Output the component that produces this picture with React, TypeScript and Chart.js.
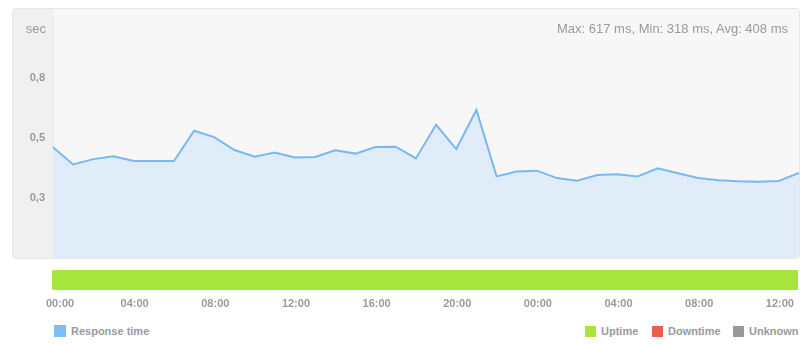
import React, { useEffect, useRef } from "react";
import { Chart, registerables } from "chart.js";

Chart.register(...registerables);

const FONT = "'Liberation Sans', Arial, Helvetica, sans-serif";

const categories = [
  "00:00", "01:00", "02:00", "03:00", "04:00", "05:00", "06:00", "07:00",
  "08:00", "09:00", "10:00", "11:00", "12:00", "13:00", "14:00", "15:00",
  "16:00", "17:00", "18:00", "19:00", "20:00", "21:00", "22:00", "23:00",
  "00:00", "01:00", "02:00", "03:00", "04:00", "05:00", "06:00", "07:00",
  "08:00", "09:00", "10:00", "11:00", "12:00", "13:00",
];

// response time in seconds
const responseTimes = [
  0.461, 0.39, 0.412, 0.424, 0.404, 0.404, 0.404, 0.53, 0.504, 0.45,
  0.422, 0.439, 0.419, 0.421, 0.449, 0.435, 0.462, 0.464, 0.415, 0.555,
  0.454, 0.617, 0.34, 0.36, 0.364, 0.333, 0.322, 0.346, 0.349, 0.34,
  0.374, 0.353, 0.333, 0.324, 0.32, 0.318, 0.321, 0.354,
];

const yTickValues = [0.25, 0.5, 0.75];
const yTickLabels = ["0,3", "0,5", "0,8"];

const xTickIndices = [0, 4, 8, 12, 16, 20, 24, 28, 32, 36];

// uptime spans (category index range)
const uptimeRanges = [[0, 37]];

const statsText = "Max: 617 ms, Min: 318 ms, Avg: 408 ms";

const LINE = "#79b8f3";
const FILL = "#e0ecf7";
const GREEN = "#a6e43e";

const gutterPlugin = {
  id: "gutter",
  beforeDraw(chart: any) {
    const { ctx, chartArea } = chart;
    ctx.save();
    ctx.fillStyle = "#f0f0f0";
    ctx.fillRect(0, 0, chartArea.left, chart.height);
    ctx.restore();
  },
};

function MainChart() {
  const ref = useRef<HTMLCanvasElement | null>(null);
  useEffect(() => {
    if (!ref.current) return;
    const chart = new Chart(ref.current, {
      type: "line",
      data: {
        labels: categories,
        datasets: [
          {
            label: "Response time",
            data: responseTimes,
            borderColor: LINE,
            backgroundColor: FILL,
            borderWidth: 2,
            fill: "origin",
            pointRadius: 0,
            tension: 0,
          },
        ],
      },
      options: {
        animation: false,
        responsive: false,
        devicePixelRatio: 1,
        layout: { padding: { top: 9, left: 0, right: 0, bottom: 0 } },
        plugins: { legend: { display: false }, tooltip: { enabled: false } },
        scales: {
          x: { display: false },
          y: {
            min: 0,
            max: 1,
            afterBuildTicks(s: any) {
              s.ticks = yTickValues.map((v) => ({ value: v }));
            },
            afterFit(s: any) {
              s.width = 40;
              s.paddingTop = 0;
              s.paddingBottom = 0;
            },
            ticks: {
              callback: (_v: any, i: number) => yTickLabels[i],
              color: "#9a9a9a",
              font: { family: FONT, size: 11, weight: "bold" },
              padding: 8,
            },
            grid: { display: false, drawTicks: false },
            border: { display: true, color: "#e3e3e3", width: 1 },
          },
        },
      } as any,
      plugins: [gutterPlugin],
    });
    return () => chart.destroy();
  }, []);
  return <canvas ref={ref} width={786} height={249} style={{ display: "block" }} />;
}

function UptimeChart() {
  const ref = useRef<HTMLCanvasElement | null>(null);
  useEffect(() => {
    if (!ref.current) return;
    const chart = new Chart(ref.current, {
      type: "bar",
      data: {
        labels: ["Uptime"],
        datasets: [
          {
            label: "Uptime",
            data: uptimeRanges as any,
            backgroundColor: GREEN,
            borderRadius: 3,
            borderSkipped: false,
            barPercentage: 1,
            categoryPercentage: 1,
          },
        ],
      },
      options: {
        animation: false,
        responsive: false,
        devicePixelRatio: 1,
        indexAxis: "y",
        layout: { padding: { top: 6, left: 52, right: 14, bottom: 4 } },
        plugins: { legend: { display: false }, tooltip: { enabled: false } },
        scales: {
          x: {
            type: "linear",
            min: 0,
            max: categories.length - 1,
            afterBuildTicks(s: any) {
              s.ticks = xTickIndices.map((v, i) => ({ value: i === 0 ? v + 0.3 : v }));
            },
            afterFit(s: any) {
              s.paddingLeft = 0;
              s.paddingRight = 0;
            },
            ticks: {
              callback: (_v: any, i: number) => categories[xTickIndices[i]],
              color: "#9a9a9a",
              font: { family: FONT, size: 11, weight: "bold" },
              padding: 7,
              labelOffset: 2,
              maxRotation: 0,
              autoSkip: false,
            },
            grid: { display: false, drawTicks: false },
            border: { display: false },
          },
          y: { display: false },
        },
      } as any,
    });
    return () => chart.destroy();
  }, []);
  return <canvas ref={ref} width={812} height={50} style={{ display: "block" }} />;
}

const textStyle: React.CSSProperties = {
  position: "absolute",
  fontFamily: FONT,
  color: "#9a9a9a",
  whiteSpace: "nowrap",
};

function LegendItem({ left, color, label, size }: { left: number; color: string; label: string; size: number }) {
  return (
    <div style={{ position: "absolute", left, top: 323, height: 16, display: "flex", alignItems: "center" }}>
      <div style={{ width: size, height: size, background: color, marginRight: 5 }} />
      <span style={{ fontFamily: FONT, fontSize: 11, fontWeight: "bold", color: "#9a9a9a", lineHeight: "16px" }}>
        {label}
      </span>
    </div>
  );
}

export default function App() {
  return (
    <div style={{ position: "absolute", left: 0, top: 0, width: 812, height: 346, background: "#ffffff", overflow: "hidden" }}>
      <div
        style={{
          position: "absolute",
          left: 12,
          top: 8,
          width: 786,
          height: 249,
          border: "1px solid #e6e6e6",
          borderRadius: 4,
          background: "#f7f7f7",
          overflow: "hidden",
        }}
      >
        <MainChart />
      </div>
      <div style={{ ...textStyle, left: 0, width: 46, top: 21, fontSize: 13, lineHeight: "16px", textAlign: "right" }}>sec</div>
      <div style={{ ...textStyle, left: 488, width: 300, top: 21, fontSize: 13, lineHeight: "16px", textAlign: "right" }}>
        {statsText}
      </div>
      <div style={{ position: "absolute", left: 0, top: 264 }}>
        <UptimeChart />
      </div>
      <LegendItem left={54} color="#7dbcf6" label="Response time" size={12} />
      <LegendItem left={585} color={GREEN} label="Uptime" size={11} />
      <LegendItem left={652} color="#ee5a4c" label="Downtime" size={11} />
      <LegendItem left={733} color="#999999" label="Unknown" size={11} />
    </div>
  );
}
